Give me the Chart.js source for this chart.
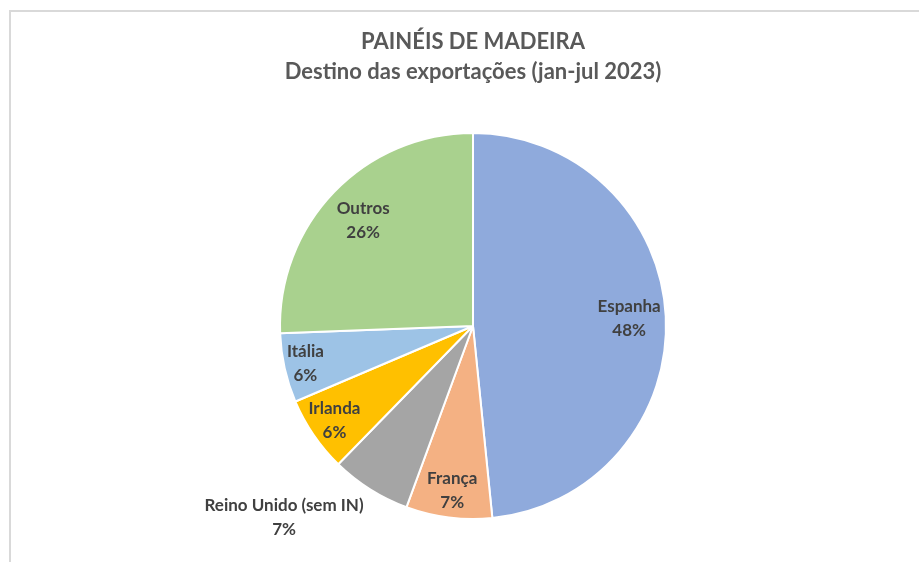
<!DOCTYPE html>
<html>
<head>
<meta charset="utf-8">
<script src="https://cdn.jsdelivr.net/npm/chart.js@4.4.1/dist/chart.umd.min.js"></script>
<style>
  html, body { margin: 0; padding: 0; background: #ffffff; }
  #wrap { position: relative; width: 919px; height: 562px; overflow: hidden; }
  #frame { position: absolute; left: 9px; top: 10px; width: 1000px; height: 700px;
           border-left: 2px solid #d9d9d9; border-top: 2px solid #d9d9d9; box-sizing: border-box; }
  canvas { position: absolute; left: 0; top: 0; }
</style>
</head>
<body>
<div id="wrap">
  <div id="frame"></div>
  <canvas id="c" width="919" height="562"></canvas>
</div>
<script>
// ---- data ----
const categories = ["Espanha", "França", "Reino Unido (sem IN)", "Irlanda", "Itália", "Outros"];
const shares = [48.4, 7.2, 6.7, 6.3, 5.8, 25.6];
const colors = ["#8FAADC", "#F4B183", "#A5A5A5", "#FFC000", "#9DC3E6", "#A9D18E"];
const titleLines = ["PAINÉIS DE MADEIRA", "Destino das exportações (jan-jul 2023)"];

// label placement (style): radial factor, outside flag
const labelFactor = [0.81, 0.86, 1.17, 0.87, 0.89, 0.79];
const labelOutside = [false, false, true, false, false, false];

const FONT = "Lato, 'Open Sans', sans-serif";

const pieLabels = {
  id: 'pieLabels',
  afterDatasetsDraw(chart) {
    const ctx = chart.ctx;
    const meta = chart.getDatasetMeta(0);
    const data = chart.data.datasets[0].data;
    const total = data.reduce((a, b) => a + b, 0);
    ctx.save();
    ctx.font = "bold 17px " + FONT;
    ctx.fillStyle = "#404040";
    ctx.textBaseline = "middle";
    ctx.textAlign = "center";
    meta.data.forEach((arc, i) => {
      const p = arc.getProps(['x', 'y', 'startAngle', 'endAngle', 'outerRadius'], true);
      const mid = (p.startAngle + p.endAngle) / 2;
      const r = p.outerRadius * labelFactor[i];
      let x = p.x + Math.cos(mid) * r;
      let y = p.y + Math.sin(mid) * r;
      const l1 = chart.data.labels[i];
      const l2 = Math.round(data[i] / total * 100) + "%";
      if (labelOutside[i]) {
        const w = Math.max(ctx.measureText(l1).width, ctx.measureText(l2).width);
        x = x + 11 - w / 2;
      }
      ctx.fillText(l1, x, y - 12);
      ctx.fillText(l2, x, y + 12);
    });
    ctx.restore();
  }
};

new Chart(document.getElementById('c'), {
  type: 'pie',
  data: {
    labels: categories,
    datasets: [{
      data: shares,
      backgroundColor: colors,
      borderColor: "#ffffff",
      borderWidth: 2
    }]
  },
  options: {
    responsive: false,
    animation: false,
    layout: { padding: { left: 27, right: 0, top: 0, bottom: 42 } },
    plugins: {
      legend: { display: false },
      tooltip: { enabled: false },
      title: {
        display: true,
        text: titleLines,
        color: "#595959",
        font: { family: FONT, size: 22, weight: 'bold', lineHeight: 1.364 },
        padding: { top: 27, bottom: 45 }
      }
    }
  },
  plugins: [pieLabels]
});
</script>
</body>
</html>
